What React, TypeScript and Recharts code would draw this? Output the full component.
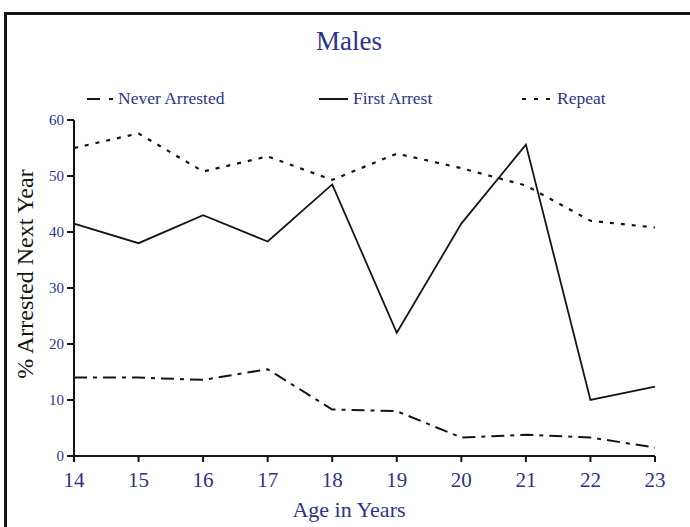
import React from "react";
import { LineChart, Line, XAxis, YAxis } from "recharts";

const AGES = [14, 15, 16, 17, 18, 19, 20, 21, 22, 23];
const NEVER_ARRESTED = [14, 14, 13.6, 15.5, 8.3, 8, 3.3, 3.8, 3.3, 1.5];
const FIRST_ARREST = [41.5, 38, 43, 38.3, 48.5, 22, 41.5, 55.6, 10, 12.4];
const REPEAT = [55, 57.6, 50.8, 53.5, 49.3, 54, 51.4, 48.3, 42, 40.8];
const Y_TICKS = [0, 10, 20, 30, 40, 50, 60];

const NAVY = "#2b3488";
const INK = "#151515";
const FONT = "'Liberation Serif', 'DejaVu Serif', serif";

const data = AGES.map((age, i) => ({
  age,
  never: NEVER_ARRESTED[i],
  first: FIRST_ARREST[i],
  repeat: REPEAT[i],
}));

// legend entries drawn by hand so they sit where the original has them
const LEGEND = [
  { label: "Never Arrested", x: 87, len: 26, gap: 5, dash: "13 9 4 40" },
  { label: "First Arrest", x: 319, len: 29, gap: 5, dash: undefined },
  { label: "Repeat", x: 522, len: 29, gap: 6, dash: "4 8" },
];

export default function App() {
  return (
    <div
      style={{
        position: "absolute",
        left: 0,
        top: 0,
        width: 690,
        height: 527,
        overflow: "hidden",
        background: "#fff",
        fontFamily: FONT,
      }}
    >
      <div
        style={{
          position: "absolute",
          left: 4,
          top: 12,
          width: 800,
          height: 700,
          borderLeft: `3px solid ${INK}`,
          borderTop: `3px solid ${INK}`,
        }}
      />
      <div
        style={{
          position: "absolute",
          left: 0,
          top: 26,
          width: 698,
          textAlign: "center",
          fontSize: 27,
          color: NAVY,
        }}
      >
        Males
      </div>

      {LEGEND.map((item) => (
        <div
          key={item.label}
          style={{
            position: "absolute",
            left: item.x,
            top: 88,
            height: 20,
            display: "flex",
            alignItems: "center",
            fontSize: 17.5,
            color: NAVY,
            whiteSpace: "nowrap",
          }}
        >
          <svg width={item.len} height={12} style={{ marginRight: item.gap }}>
            <line
              x1={0}
              y1={7}
              x2={item.len}
              y2={7}
              stroke={INK}
              strokeWidth={2}
              strokeDasharray={item.dash}
            />
          </svg>
          {item.label}
        </div>
      ))}

      <div
        style={{
          position: "absolute",
          left: 25,
          top: 274,
          transform: "translate(-50%, -50%) rotate(-90deg)",
          fontSize: 24,
          color: INK,
          whiteSpace: "nowrap",
        }}
      >
        % Arrested Next Year
      </div>

      <div
        style={{
          position: "absolute",
          left: 0,
          top: 497,
          width: 698,
          textAlign: "center",
          fontSize: 22,
          color: NAVY,
        }}
      >
        Age in Years
      </div>

      <div style={{ position: "absolute", left: 0, top: 0 }}>
        <LineChart
          width={690}
          height={527}
          data={data}
          margin={{ top: 120, right: 35, bottom: 0, left: 0 }}
        >
          <XAxis
            dataKey="age"
            type="number"
            domain={[14, 23]}
            ticks={AGES}
            height={71}
            axisLine={{ stroke: INK, strokeWidth: 2 }}
            tickLine={{ stroke: INK, strokeWidth: 2 }}
            tickSize={6}
            tickMargin={10}
            tick={{ fill: NAVY, fontSize: 21, fontFamily: FONT }}
          />
          <YAxis
            domain={[0, 60]}
            ticks={Y_TICKS}
            width={74}
            axisLine={{ stroke: INK, strokeWidth: 2 }}
            tickLine={{ stroke: INK, strokeWidth: 2 }}
            tickSize={7}
            tickMargin={3}
            tick={{ fill: NAVY, fontSize: 15, fontFamily: FONT }}
          />
          <Line
            dataKey="never"
            stroke={INK}
            strokeWidth={2}
            strokeDasharray="13 6 4 6"
            dot={false}
            isAnimationActive={false}
          />
          <Line
            dataKey="first"
            stroke={INK}
            strokeWidth={1.8}
            dot={false}
            isAnimationActive={false}
          />
          <Line
            dataKey="repeat"
            stroke={INK}
            strokeWidth={2.2}
            strokeDasharray="4 7"
            dot={false}
            isAnimationActive={false}
          />
        </LineChart>
      </div>
    </div>
  );
}
